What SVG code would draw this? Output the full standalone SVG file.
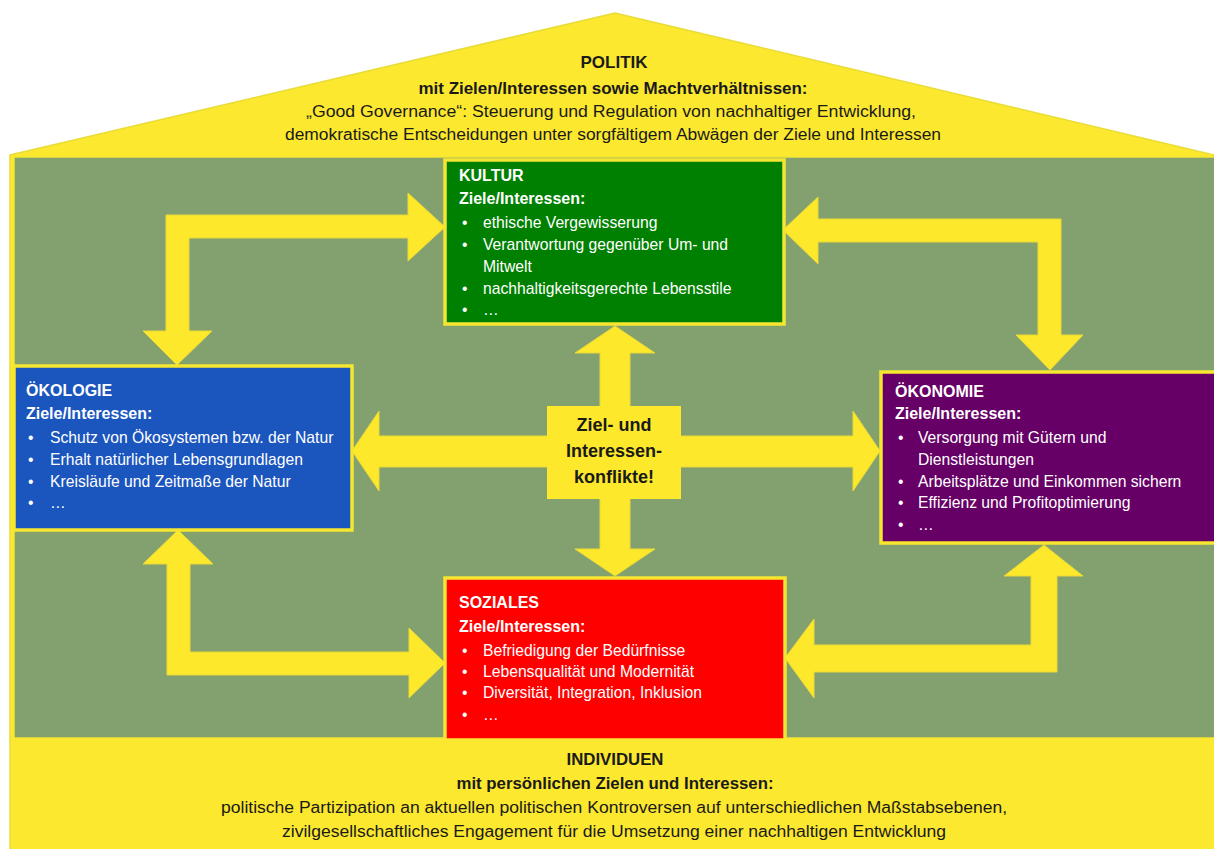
<svg xmlns="http://www.w3.org/2000/svg" width="1214" height="849" viewBox="0 0 1214 849">
<style>
.dark{font-family:"Liberation Sans",Arial,sans-serif;fill:#1a1a1a;text-anchor:middle}
.w{font-family:"Liberation Sans",Arial,sans-serif;fill:#ffffff}
.tt{font-size:16px;font-weight:bold}
.bl{font-size:15.7px}
.arrow{fill:#fde82b;stroke:#e8d838;stroke-width:1}
.box{stroke:#f6e630;stroke-width:3.5}
</style>
<rect width="1214" height="849" fill="#ffffff"/>
<g id="house">
<polygon points="10,155 615,13 1214,155 1214,849 10,849" fill="#fce82e" stroke="#e9dc38" stroke-width="1.5"/>
<rect x="14" y="157" width="1202" height="581" fill="#83a16f" stroke="#f3e534" stroke-width="1.5"/>
</g>
<g id="politik">
<text class="dark" x="614" y="68" font-size="17" font-weight="bold" textLength="67" lengthAdjust="spacingAndGlyphs">POLITIK</text>
<text class="dark" x="613" y="94" font-size="16" font-weight="bold" textLength="389" lengthAdjust="spacingAndGlyphs">mit Zielen/Interessen sowie Machtverhältnissen:</text>
<text class="dark" x="611" y="117" font-size="16" textLength="610" lengthAdjust="spacingAndGlyphs">„Good Governance“: Steuerung und Regulation von nachhaltiger Entwicklung,</text>
<text class="dark" x="613" y="140" font-size="16" textLength="656" lengthAdjust="spacingAndGlyphs">demokratische Entscheidungen unter sorgfältigem Abwägen der Ziele und Interessen</text>
</g>
<g id="connectors">
<polygon class="arrow" points="166,331 143,331 177,365 212,331 189,331 189,238 408,238 408,261 445,227 408,193 408,215 166,215"/>
<polygon class="arrow" points="783,230 818,197 818,219 1061,219 1061,335 1083,335 1050,370 1016,335 1038,335 1038,242 818,242 818,264"/>
<polygon class="arrow" points="178,530 213,564 190,564 190,652 409,652 409,628 445,663 409,698 409,675 167,675 167,564 143,564"/>
<polygon class="arrow" points="1044,545 1083,576 1057,576 1057,672 814,672 814,698 785,658 814,619 814,645 1031,645 1031,576 1004,576"/>
<polygon class="arrow" points="615,326 655,353 630,353 630,436 853,436 853,411 880,451 853,491 853,467 630,467 630,549 655,549 615,576 575,549 600,549 600,467 379,467 379,491 352,451 379,411 379,436 600,436 600,353 575,353"/>
</g>
<g id="konflikte">
<rect x="547" y="406" width="134" height="93" fill="#fde82b"/>
<text class="dark" x="614" y="431" font-size="18" font-weight="bold">Ziel- und</text>
<text class="dark" x="614" y="457" font-size="18" font-weight="bold">Interessen-</text>
<text class="dark" x="614" y="483" font-size="18" font-weight="bold">konflikte!</text>
</g>
<g id="kultur">
<rect class="box" x="445" y="160" width="339" height="164" fill="#008000"/>
<text class="w tt" x="459" y="181">KULTUR</text>
<text class="w tt" x="459" y="204">Ziele/Interessen:</text>
<text class="w bl" x="462" y="228">•</text><text class="w bl" x="483" y="228">ethische Vergewisserung</text>
<text class="w bl" x="462" y="250">•</text><text class="w bl" x="483" y="250">Verantwortung gegenüber Um- und</text>
<text class="w bl" x="483" y="272">Mitwelt</text>
<text class="w bl" x="462" y="294">•</text><text class="w bl" x="483" y="294">nachhaltigkeitsgerechte Lebensstile</text>
<text class="w bl" x="462" y="315">•</text><text class="w bl" x="483" y="315">…</text>
</g>
<g id="oekologie">
<rect class="box" x="14" y="366" width="338" height="164" fill="#1b55be"/>
<text class="w tt" x="26" y="396">ÖKOLOGIE</text>
<text class="w tt" x="26" y="419">Ziele/Interessen:</text>
<text class="w bl" x="28" y="443">•</text><text class="w bl" x="50" y="443">Schutz von Ökosystemen bzw. der Natur</text>
<text class="w bl" x="28" y="465">•</text><text class="w bl" x="50" y="465">Erhalt natürlicher Lebensgrundlagen</text>
<text class="w bl" x="28" y="487">•</text><text class="w bl" x="50" y="487">Kreisläufe und Zeitmaße der Natur</text>
<text class="w bl" x="28" y="508">•</text><text class="w bl" x="50" y="508">…</text>
</g>
<g id="oekonomie">
<rect class="box" x="881" y="372" width="340" height="171" fill="#660066"/>
<text class="w tt" x="895" y="397">ÖKONOMIE</text>
<text class="w tt" x="895" y="419">Ziele/Interessen:</text>
<text class="w bl" x="898" y="443">•</text><text class="w bl" x="918" y="443">Versorgung mit Gütern und</text>
<text class="w bl" x="918" y="465">Dienstleistungen</text>
<text class="w bl" x="898" y="487">•</text><text class="w bl" x="918" y="487">Arbeitsplätze und Einkommen sichern</text>
<text class="w bl" x="898" y="508">•</text><text class="w bl" x="918" y="508">Effizienz und Profitoptimierung</text>
<text class="w bl" x="898" y="530">•</text><text class="w bl" x="918" y="530">…</text>
</g>
<g id="soziales">
<rect class="box" x="445" y="578" width="340" height="162" fill="#ff0000"/>
<text class="w tt" x="459" y="608">SOZIALES</text>
<text class="w tt" x="459" y="632">Ziele/Interessen:</text>
<text class="w bl" x="462" y="656">•</text><text class="w bl" x="483" y="656">Befriedigung der Bedürfnisse</text>
<text class="w bl" x="462" y="677">•</text><text class="w bl" x="483" y="677">Lebensqualität und Modernität</text>
<text class="w bl" x="462" y="698">•</text><text class="w bl" x="483" y="698">Diversität, Integration, Inklusion</text>
<text class="w bl" x="462" y="720">•</text><text class="w bl" x="483" y="720">…</text>
</g>
<rect x="12" y="739" width="1202" height="110" fill="#fce82e"/>
<g id="individuen">
<text class="dark" x="615" y="765" font-size="17" font-weight="bold" textLength="97" lengthAdjust="spacingAndGlyphs">INDIVIDUEN</text>
<text class="dark" x="615" y="789" font-size="16" font-weight="bold" textLength="317" lengthAdjust="spacingAndGlyphs">mit persönlichen Zielen und Interessen:</text>
<text class="dark" x="614" y="813" font-size="16" textLength="786" lengthAdjust="spacingAndGlyphs">politische Partizipation an aktuellen politischen Kontroversen auf unterschiedlichen Maßstabsebenen,</text>
<text class="dark" x="614" y="837" font-size="16" textLength="664" lengthAdjust="spacingAndGlyphs">zivilgesellschaftliches Engagement für die Umsetzung einer nachhaltigen Entwicklung</text>
</g>
</svg>
